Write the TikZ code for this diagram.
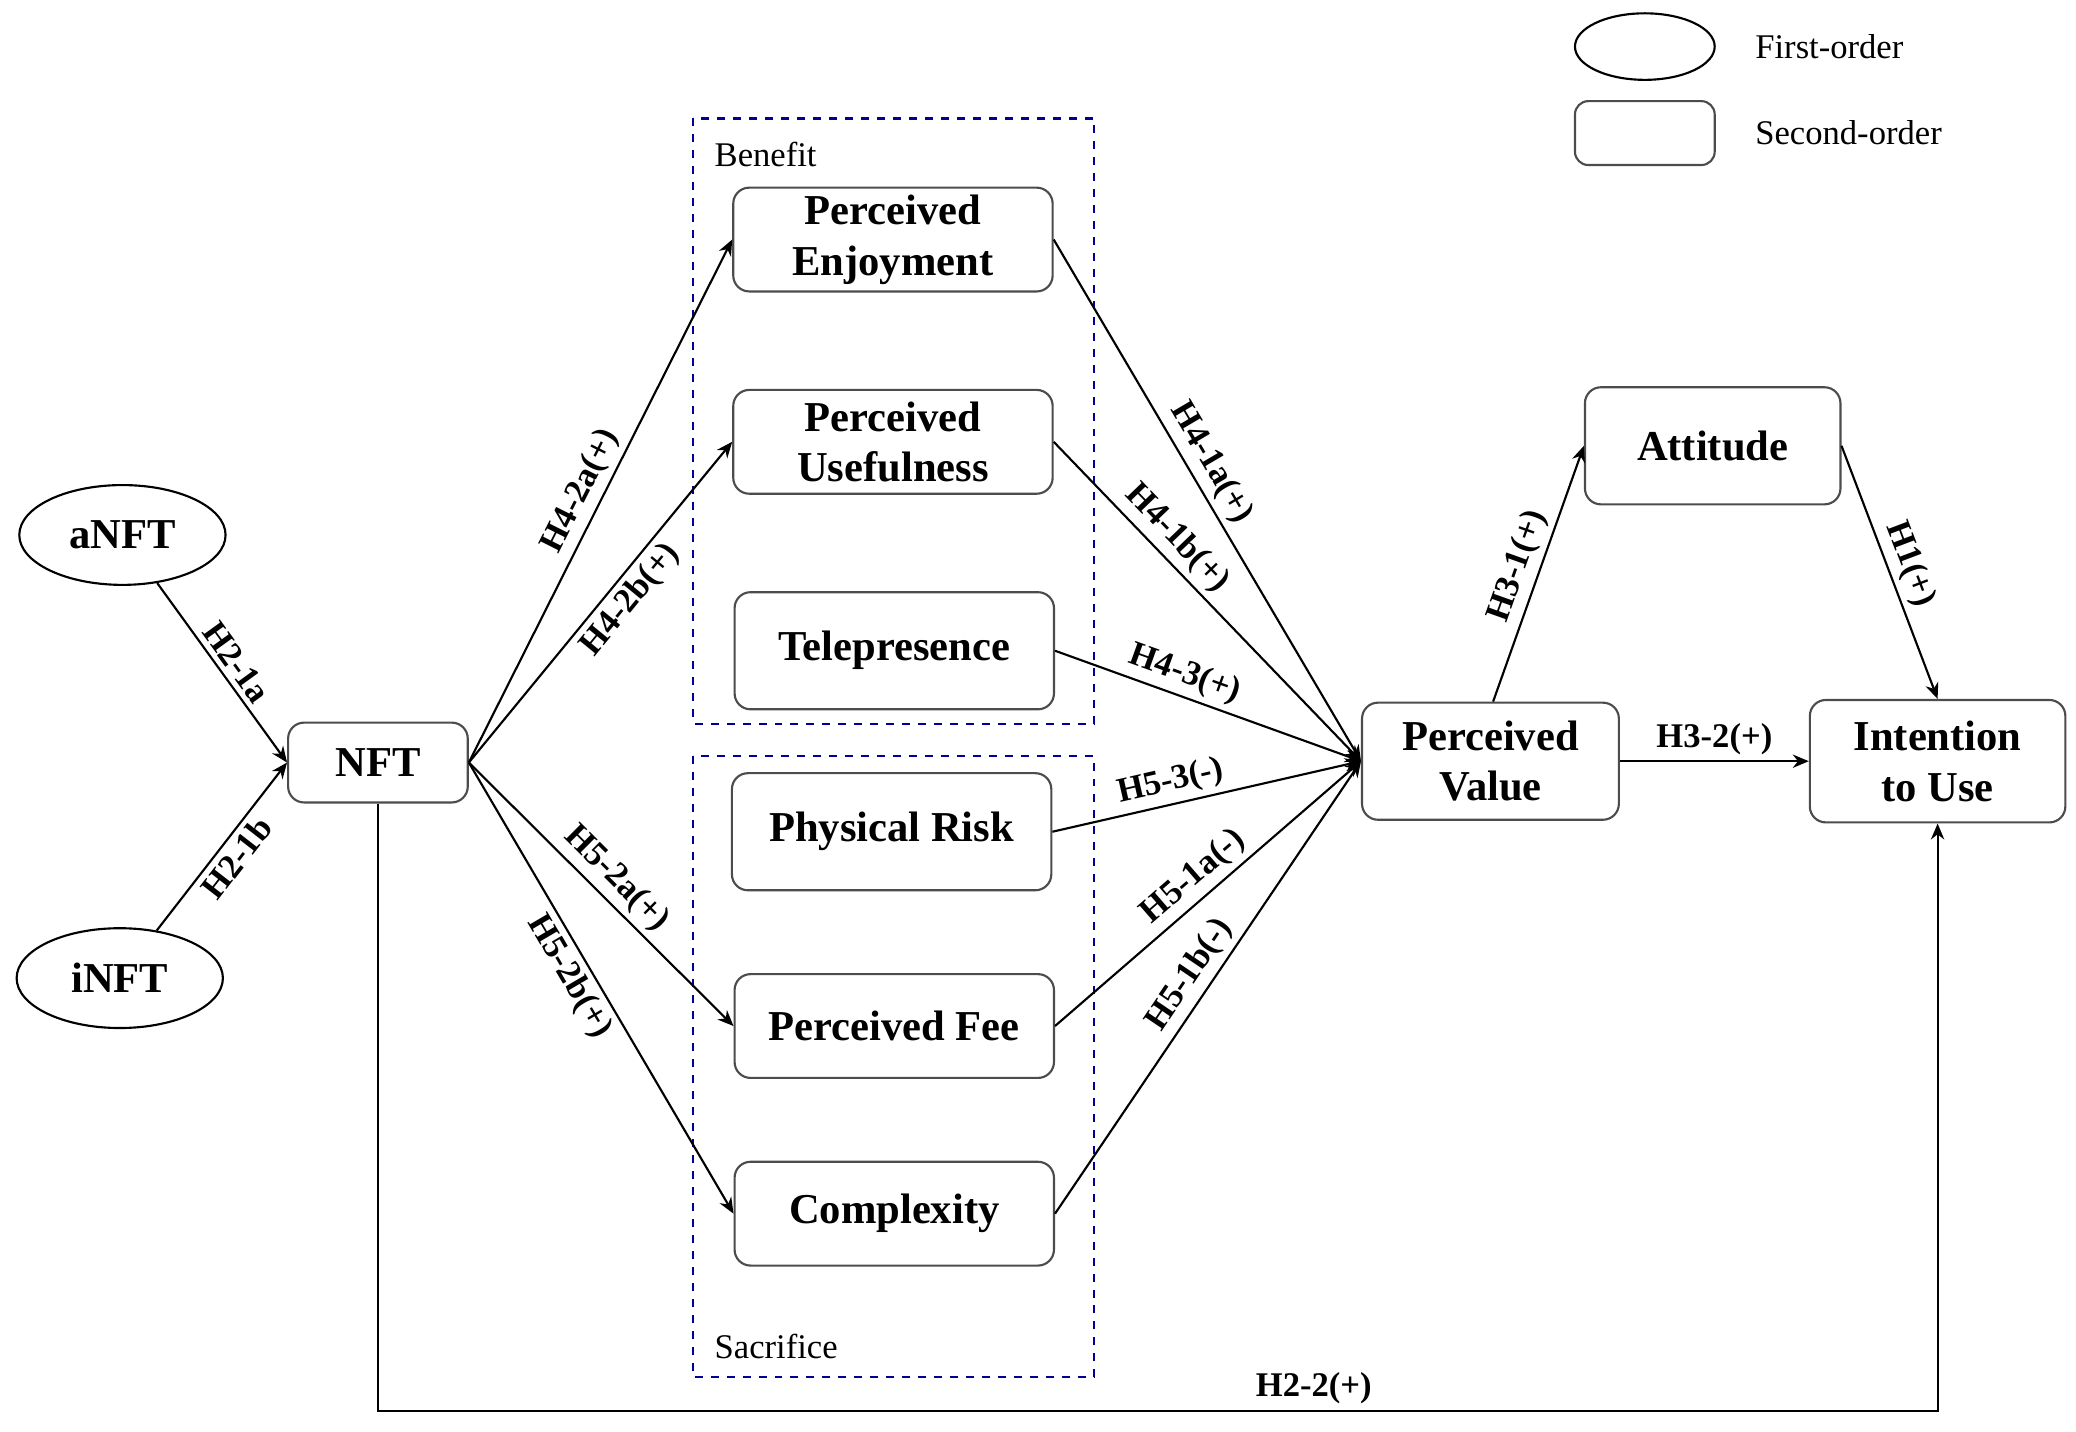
\documentclass[tikz,border=0pt]{standalone}
\usepackage{fontspec}
\setmainfont{Liberation Serif}
\usetikzlibrary{shapes.geometric,arrows.meta}
\begin{document}
\begin{tikzpicture}[x=0.5pt,y=-0.5pt,
 box/.style={draw=black!70,rounded corners=6pt,thick,align=center,font=\fontsize{16}{19}\selectfont\bfseries,inner sep=0pt},
 ell/.style={draw,ellipse,thick,font=\fontsize{16}{18}\selectfont\bfseries,inner sep=0pt},
 arr/.style={-{Stealth[length=6pt,width=5pt]},thick},
 lab/.style={font=\fontsize{13}{15}\selectfont\bfseries,sloped,inner sep=2pt},
 grp/.style={draw=blue!60!black,dashed,thick}]
\useasboundingbox (0,0) rectangle (1560,1076);
\draw[grp] (521,89) rectangle (822,544);
\draw[grp] (521,568) rectangle (822,1035);
\node[anchor=west,font=\fontsize{13}{15}\selectfont] (ben) at (530,116) {Benefit};
\node[anchor=west,font=\fontsize{13}{15}\selectfont] (sac) at (530,1012) {Sacrifice};
\node[ell,minimum width=77.5pt,minimum height=37.5pt] (a) at (92,402) {aNFT};
\node[ell,minimum width=77.5pt,minimum height=37.5pt] (i) at (90,735) {iNFT};
\node[box,minimum width=67.5pt,minimum height=30pt] (nft) at (284,573) {NFT};
\node[box,minimum width=120pt,minimum height=39pt] (pe) at (671,180) {Perceived\\Enjoyment};
\node[box,minimum width=120pt,minimum height=39pt] (pu) at (671,332) {Perceived\\Usefulness};
\node[box,minimum width=120pt,minimum height=44pt] (tp) at (672,489) {Telepresence};
\node[box,minimum width=120pt,minimum height=44pt] (pr) at (670,625) {Physical Risk};
\node[box,minimum width=120pt,minimum height=39pt] (pf) at (672,771) {Perceived Fee};
\node[box,minimum width=120pt,minimum height=39pt] (cx) at (672,912) {Complexity};
\node[box,minimum width=96.5pt,minimum height=44pt] (pv) at (1120,572) {Perceived\\Value};
\node[box,minimum width=96pt,minimum height=44pt] (at) at (1287,335) {Attitude};
\node[box,minimum width=96pt,minimum height=46pt] (iu) at (1456,572) {Intention\\to Use};
\node[draw,ellipse,thick,minimum width=52.5pt,minimum height=25pt] (le) at (1236,35) {};
\node[draw=black!70,thick,rounded corners=5pt,minimum width=52.5pt,minimum height=24pt] (lr) at (1236,100) {};
\node[anchor=west,font=\fontsize{13}{15}\selectfont] (lt1) at (1312,35) {First-order};
\node[anchor=west,font=\fontsize{13}{15}\selectfont] (lt2) at (1312,100) {Second-order};
\draw[arr] (a) -- node[lab,above]{H2-1a} (nft.west);
\draw[arr] (i) -- node[lab,below]{H2-1b} (nft.west);
\draw[arr] (nft.east) -- node[lab,above]{H4-2a(+)} (pe.west);
\draw[arr] (nft.east) -- node[lab,below,pos=0.55]{H4-2b(+)} (pu.west);
\draw[arr] (nft.east) -- node[lab,above]{H5-2a(+)} (pf.west);
\draw[arr] (nft.east) -- node[lab,below,pos=0.45]{H5-2b(+)} (cx.west);
\draw[arr] (pe.east) -- node[lab,above,pos=0.45]{H4-1a(+)} (pv.west);
\draw[arr] (pu.east) -- node[lab,above,pos=0.35]{H4-1b(+)} (pv.west);
\draw[arr] (tp.east) -- node[lab,above,pos=0.4]{H4-3(+)} (pv.west);
\draw[arr] (pr.east) -- node[lab,above,pos=0.4]{H5-3(-)} (pv.west);
\draw[arr] (pf.east) -- node[lab,above,pos=0.5]{H5-1a(-)} (pv.west);
\draw[arr] (cx.east) -- node[lab,above,pos=0.5]{H5-1b(-)} (pv.west);
\coordinate (pvt) at ([xshift=1pt]pv.north);
\draw[arr] (pvt) -- node[lab,above]{H3-1(+)} (at.west);
\draw[arr] (at.east) -- node[lab,above]{H1(+)} (iu.north);
\draw[arr] (pv.east) -- node[lab,above]{H3-2(+)} (iu.west);
\draw[arr] (nft.south) |- (1456,1060) node[lab,above,pos=0.8]{H2-2(+)} -- (iu.south);
\end{tikzpicture}
\end{document}
